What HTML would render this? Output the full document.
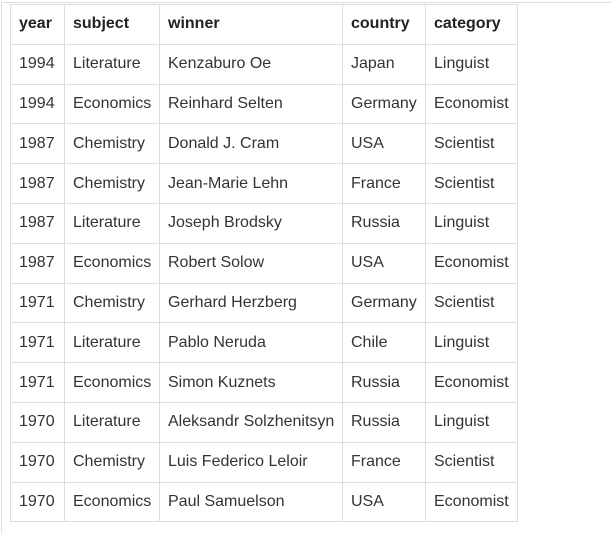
<!DOCTYPE html>
<html><head><meta charset="utf-8"><style>
html,body{margin:0;padding:0;background:#fff;width:611px;height:519px;overflow:hidden}
#frame{position:absolute;left:1px;top:2px;width:620px;height:530px;border-left:1px solid #ddd;border-top:1px solid #ddd}
table{position:absolute;left:10px;top:4px;border-collapse:collapse;table-layout:fixed;font-family:"Liberation Sans",sans-serif;font-size:16px;color:#333}
td,th{border:1px solid #ddd;height:39.8px;padding:0 0 0 8px;text-align:left;white-space:nowrap;box-sizing:border-box}
th{font-weight:bold;color:#222}
</style></head><body>
<div id="frame"></div>
<table>
<colgroup><col style="width:54px"><col style="width:95px"><col style="width:183px"><col style="width:83px"><col style="width:92px"></colgroup>
<thead><tr><th>year</th><th>subject</th><th>winner</th><th>country</th><th>category</th></tr></thead>
<tbody>
<tr><td>1994</td><td>Literature</td><td>Kenzaburo Oe</td><td>Japan</td><td>Linguist</td></tr>
<tr><td>1994</td><td>Economics</td><td>Reinhard Selten</td><td>Germany</td><td>Economist</td></tr>
<tr><td>1987</td><td>Chemistry</td><td>Donald J. Cram</td><td>USA</td><td>Scientist</td></tr>
<tr><td>1987</td><td>Chemistry</td><td>Jean-Marie Lehn</td><td>France</td><td>Scientist</td></tr>
<tr><td>1987</td><td>Literature</td><td>Joseph Brodsky</td><td>Russia</td><td>Linguist</td></tr>
<tr><td>1987</td><td>Economics</td><td>Robert Solow</td><td>USA</td><td>Economist</td></tr>
<tr><td>1971</td><td>Chemistry</td><td>Gerhard Herzberg</td><td>Germany</td><td>Scientist</td></tr>
<tr><td>1971</td><td>Literature</td><td>Pablo Neruda</td><td>Chile</td><td>Linguist</td></tr>
<tr><td>1971</td><td>Economics</td><td>Simon Kuznets</td><td>Russia</td><td>Economist</td></tr>
<tr><td>1970</td><td>Literature</td><td>Aleksandr Solzhenitsyn</td><td>Russia</td><td>Linguist</td></tr>
<tr><td>1970</td><td>Chemistry</td><td>Luis Federico Leloir</td><td>France</td><td>Scientist</td></tr>
<tr><td>1970</td><td>Economics</td><td>Paul Samuelson</td><td>USA</td><td>Economist</td></tr>
</tbody></table>
</body></html>
